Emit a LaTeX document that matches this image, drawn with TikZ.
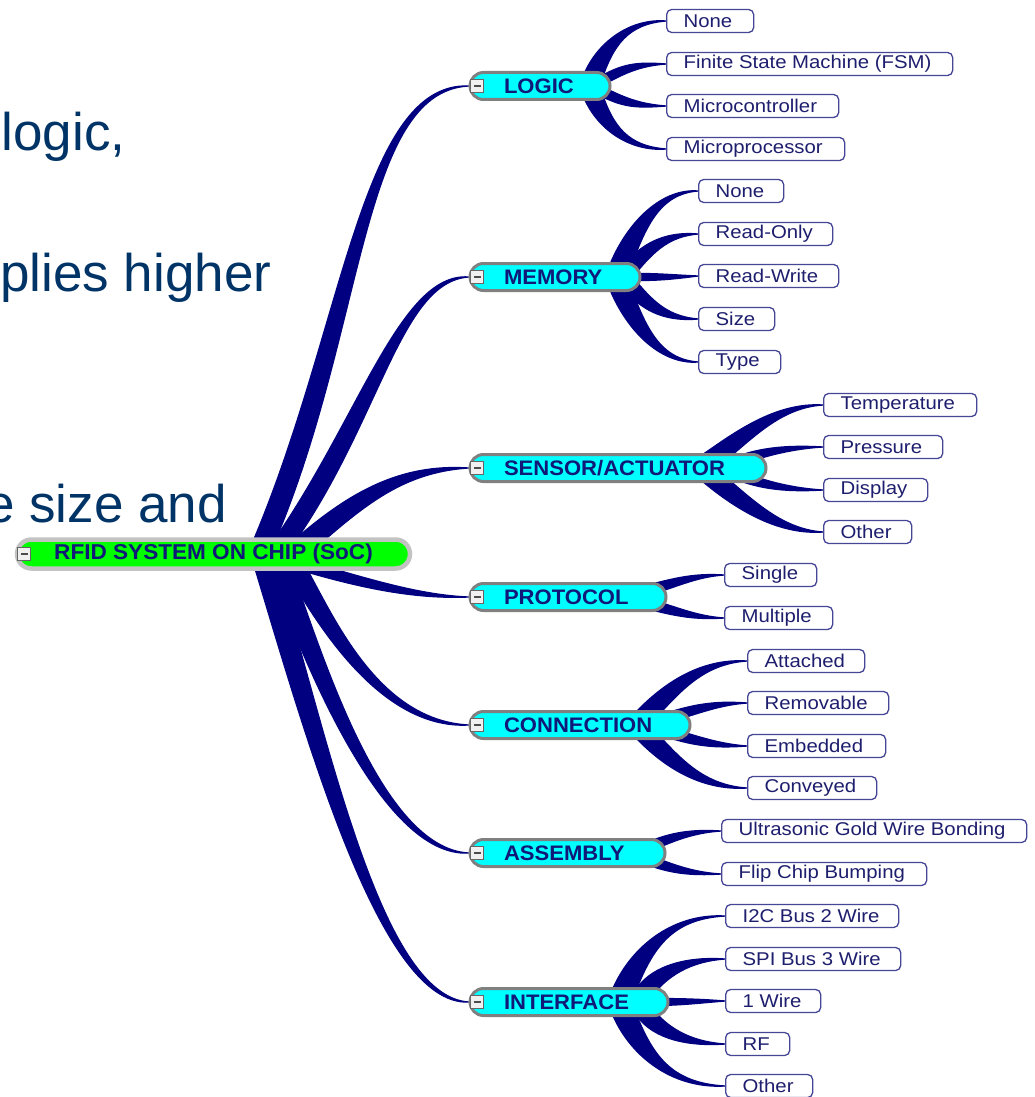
\documentclass[tikz,border=0pt]{standalone}
\usepackage{fontspec}
\setmainfont{Liberation Sans}
\newfontfamily\leaffont[FakeStretch=1.1]{Liberation Sans}
\newfontfamily\catfont[FakeStretch=1.05]{Liberation Sans}
\usetikzlibrary{calc}
\pgfdeclarelayer{background}
\pgfsetlayers{background,main}

\definecolor{branchblue}{RGB}{0,0,128}
\definecolor{leafedge}{RGB}{70,70,150}
\definecolor{leaftext}{RGB}{30,30,110}
\definecolor{cattext}{RGB}{16,24,120}
\definecolor{slate}{RGB}{0,51,102}
\definecolor{catedge}{RGB}{128,128,128}
\definecolor{catfill}{RGB}{0,255,255}
\definecolor{rootedge}{RGB}{195,195,195}
\definecolor{rootfill}{RGB}{0,255,0}

% leaf box: name, left x, right x, centre y, label
\newcommand\leafnode[5]{%
  \node[leaf] (#1) at (#2+1,#4) {\makebox[\dimexpr #3pt-#2pt-36pt\relax][l]{#5}};}
% category box: name, right x, centre y, label
\newcommand\catnode[4]{%
  \node[cat] (#1) at (468.5,#3) {\makebox[\dimexpr #2pt-538pt\relax][l]{#4}};}
% tapered branch: parent anchor, shift of base, half width at base,
% first control, second control, half width near tip, tip
\newcommand\twig[7]{%
  \filldraw[branch] ($#1+#2+#3$) .. controls ($#4+#3$) and ($#5+#6$) .. #7
     .. controls ($#5-#6$) and ($#4-#3$) .. ($#1+#2-#3$) -- cycle;}
% collapse toggle drawn at the left end of a box
\newcommand\toggle[2]{%
  \draw[togglebox] ($(#1.west)+(#2,-6.5)$) rectangle +(13,13);
  \draw[togglebar] ($(#1.west)+(#2+3,0)$) -- +(7,0);}

\tikzset{
  branch/.style={fill=branchblue, draw=branchblue, line width=1.3pt, line join=round},
  leaf/.style={draw=leafedge, line width=1.3pt, fill=white, rounded corners=5pt,
    anchor=west, inner xsep=17pt, inner ysep=0pt, minimum height=23pt,
    text=leaftext, font={\leaffont\fontsize{18.5}{21}\selectfont}},
  cat/.style={draw=catedge, line width=3pt, fill=catfill, rounded corners=13.5pt,
    anchor=west, inner xsep=34pt, inner ysep=0pt, minimum height=27pt,
    text=cattext, font={\catfont\bfseries\fontsize{21}{24}\selectfont}},
  rootbox/.style={draw=rootedge, line width=4.5pt, fill=rootfill, rounded corners=14.5pt,
    minimum width=393pt, minimum height=29pt, inner sep=0pt,
    text=cattext, font={\catfont\bfseries\fontsize{21.5}{24}\selectfont}},
  slide/.style={text=slate, inner sep=0pt, font={\fontsize{53}{60}\selectfont}},
  togglebox/.style={draw=black!60, fill=black!6, line width=1pt},
  togglebar/.style={draw=black!70, line width=1.3pt},
}

\begin{document}
\begin{tikzpicture}[x=1pt,y=-1pt]
\useasboundingbox (0,0) rectangle (1034,1097);
\clip (0,0) rectangle (1034,1097);

% slide text behind the map
\node[slide, anchor=base west] (t1) at (1.5,150) {logic,};
\node[slide, anchor=base west] (t2) at (0,291) {plies higher};
\node[slide, anchor=base east] (t3) at (227,522) {e size and};

% root
\node[rootbox] (root) at (213.5,554) {RFID SYSTEM ON CHIP (SoC)};

% categories
\catnode{logic}{610}{86}{LOGIC}
\catnode{memory}{640}{277}{MEMORY}
\catnode{sensor}{766}{468}{SENSOR/ACTUATOR}
\catnode{protocol}{666}{597}{PROTOCOL}
\catnode{connection}{690}{725}{CONNECTION}
\catnode{assembly}{665}{853}{ASSEMBLY}
\catnode{interface}{668}{1002}{INTERFACE}

% leaves
\leafnode{lg1}{665}{754}{21}{None}
\leafnode{lg2}{665}{953}{64}{Finite State Machine (FSM)}
\leafnode{lg3}{665}{839}{106}{Microcontroller}
\leafnode{lg4}{665}{845}{149}{Microprocessor}

\leafnode{mm1}{697}{784}{191}{None}
\leafnode{mm2}{697}{833}{234}{Read-Only}
\leafnode{mm3}{697}{839}{276}{Read-Write}
\leafnode{mm4}{697}{775}{319}{Size}
\leafnode{mm5}{697}{781}{362}{Type}

\leafnode{sn1}{822}{977}{405}{Temperature}
\leafnode{sn2}{822}{943}{447}{Pressure}
\leafnode{sn3}{822}{928}{490}{Display}
\leafnode{sn4}{822}{912}{532}{Other}

\leafnode{pr1}{723}{817}{575}{Single}
\leafnode{pr2}{723}{833}{618}{Multiple}

\leafnode{cn1}{746}{865}{661}{Attached}
\leafnode{cn2}{746}{889}{703}{Removable}
\leafnode{cn3}{746}{886}{746}{Embedded}
\leafnode{cn4}{746}{877}{788}{Conveyed}

\leafnode{as1}{720}{1027}{831}{Ultrasonic Gold Wire Bonding}
\leafnode{as2}{720}{927}{874}{Flip Chip Bumping}

\leafnode{if1}{724}{899}{916}{I2C Bus 2 Wire}
\leafnode{if2}{724}{901}{959}{SPI Bus 3 Wire}
\leafnode{if3}{724}{821}{1001}{1 Wire}
\leafnode{if4}{724}{790}{1044}{RF}
\leafnode{if5}{724}{813}{1086}{Other}

% toggles
\toggle{root}{3}
\foreach \c in {logic,memory,sensor,protocol,connection,assembly,interface}
  {\toggle{\c}{2}}

\begin{pgfonlayer}{background}
% root to categories
\twig{(root.center)}{(48.5,-8)}{(-11,0)}{(355,330)}{(360,87)}{(0,-5)}{(logic.west)}
\twig{(root.center)}{(67.5,-8)}{(-11,0)}{(370,420)}{(400,277)}{(0,-5)}{(memory.west)}
\twig{(root.center)}{(84.5,-4)}{(-6,-8)}{(355,500)}{(400,468)}{(0,-4.5)}{(sensor.west)}
\twig{(root.center)}{(91.5,12)}{(0,-5.5)}{(370,585)}{(420,597)}{(0,-2)}{(protocol.west)}
\twig{(root.center)}{(78.5,8)}{(-11,0)}{(320,610)}{(375,725)}{(0,5)}{(connection.west)}
\twig{(root.center)}{(64.5,8)}{(-11,0)}{(310,650)}{(380,853)}{(0,5)}{(assembly.west)}
\twig{(root.center)}{(50.5,8)}{(-11,0)}{(318,740)}{(380,1001)}{(0,5)}{(interface.west)}

% LOGIC
\twig{(logic.east)}{(-20.5,-4)}{(-10,0)}{(603,45)}{(628,21)}{(0,-3)}{(lg1.west)}
\twig{(logic.east)}{(-8.5,-6)}{(0,-5)}{(625,68)}{(640,64)}{(0,-2)}{(lg2.west)}
\twig{(logic.east)}{(-8.5,6)}{(0,5)}{(625,103)}{(640,106)}{(0,2)}{(lg3.west)}
\twig{(logic.east)}{(-20.5,4)}{(-10,0)}{(603,127)}{(628,149)}{(0,3)}{(lg4.west)}

% MEMORY
\twig{(memory.east)}{(-23.5,-5)}{(-11,0)}{(635,225)}{(660,191)}{(0,-3)}{(mm1.west)}
\twig{(memory.east)}{(-10.5,-9)}{(-5,-5)}{(650,245)}{(670,234)}{(0,-2.5)}{(mm2.west)}
\twig{(memory.east)}{(-2.5,0)}{(0,-3.5)}{(660,277)}{(675,277)}{(0,-2)}{(mm3.west)}
\twig{(memory.east)}{(-10.5,9)}{(-5,5)}{(650,309)}{(670,319)}{(0,2.5)}{(mm4.west)}
\twig{(memory.east)}{(-23.5,5)}{(-11,0)}{(635,329)}{(660,362)}{(0,3)}{(mm5.west)}

% SENSOR/ACTUATOR
\twig{(sensor.east)}{(-59.5,-6)}{(-6,-7)}{(740,440)}{(775,405)}{(0,-3)}{(sn1.west)}
\twig{(sensor.east)}{(-34.5,-5)}{(0,-5)}{(760,452)}{(790,447)}{(0,-2)}{(sn2.west)}
\twig{(sensor.east)}{(-34.5,5)}{(0,5)}{(760,485)}{(790,490)}{(0,2)}{(sn3.west)}
\twig{(sensor.east)}{(-59.5,6)}{(-6,7)}{(745,505)}{(780,532)}{(0,3)}{(sn4.west)}

% PROTOCOL
\twig{(protocol.east)}{(-19.5,-7)}{(0,-5)}{(675,583)}{(695,575)}{(0,-2)}{(pr1.west)}
\twig{(protocol.east)}{(-19.5,7)}{(0,5)}{(675,611)}{(695,618)}{(0,2)}{(pr2.west)}

% CONNECTION
\twig{(connection.east)}{(-48.5,-7)}{(-7,-6)}{(670,690)}{(700,661)}{(0,-3)}{(cn1.west)}
\twig{(connection.east)}{(-18.5,-9)}{(0,-5)}{(700,708)}{(720,703)}{(0,-2)}{(cn2.west)}
\twig{(connection.east)}{(-18.5,9)}{(0,5)}{(700,742)}{(720,746)}{(0,2)}{(cn3.west)}
\twig{(connection.east)}{(-48.5,7)}{(-7,6)}{(670,760)}{(700,788)}{(0,3)}{(cn4.west)}

% ASSEMBLY
\twig{(assembly.east)}{(-18.5,-6)}{(0,-5)}{(670,838)}{(690,831)}{(0,-2)}{(as1.west)}
\twig{(assembly.east)}{(-18.5,7)}{(0,5)}{(670,868)}{(690,874)}{(0,2)}{(as2.west)}

% INTERFACE
\twig{(interface.east)}{(-46.5,-9)}{(-12,0)}{(640,950)}{(670,916)}{(0,-3)}{(if1.west)}
\twig{(interface.east)}{(-26.5,-8)}{(-6,-6)}{(660,970)}{(690,959)}{(0,-2.5)}{(if2.west)}
\twig{(interface.east)}{(-16.5,0)}{(0,-3.5)}{(680,1002)}{(700,1001)}{(0,-2)}{(if3.west)}
\twig{(interface.east)}{(-26.5,8)}{(-6,6)}{(660,1034)}{(690,1044)}{(0,2.5)}{(if4.west)}
\twig{(interface.east)}{(-46.5,9)}{(-12,0)}{(640,1054)}{(670,1086)}{(0,3)}{(if5.west)}
\end{pgfonlayer}
\end{tikzpicture}
\end{document}
